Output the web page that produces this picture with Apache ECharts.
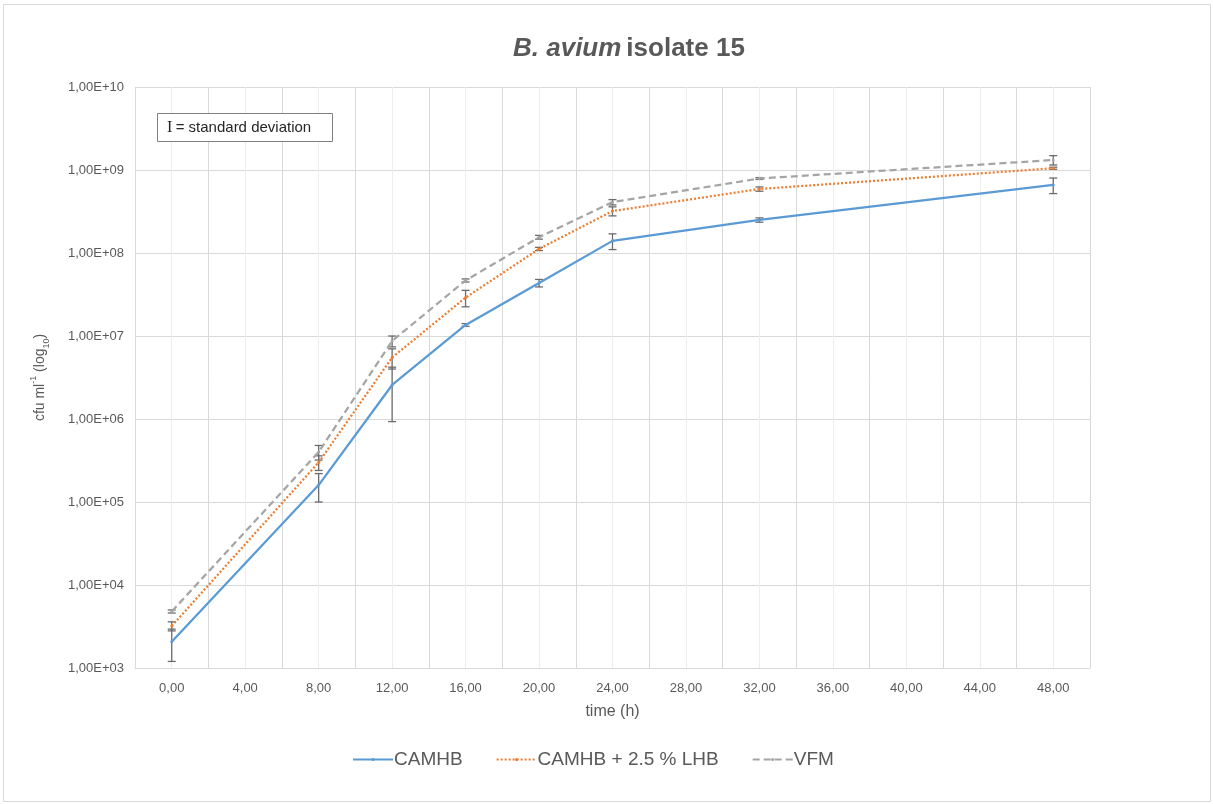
<!DOCTYPE html>
<html>
<head>
<meta charset="utf-8">
<title>B. avium isolate 15</title>
<script src="https://cdn.jsdelivr.net/npm/echarts@6/dist/echarts.min.js"></script>
<style>
  html, body { margin: 0; padding: 0; background: #fff; }
  #chart { width: 1213px; height: 804px; }
</style>
</head>
<body>
<div id="chart"></div>
<script>
// Sampling times (h)
const times = [0, 8, 12, 16, 20, 24, 32, 48];

// Mean counts (cfu/ml) and standard deviations per medium
const camhbMean = [2.07e3, 1.6e5, 2.57e6, 1.36e7, 4.35e7, 1.4e8, 2.5e8, 6.6e8];
const camhbSd   = [0.87e3, 0.6e5, 1.64e6, 0.05e7, 0.45e7, 0.3e8, 0.15e8, 1.4e8];

const lhbMean = [3.2e3, 3.0e5, 5.5e6, 2.9e7, 1.12e8, 3.2e8, 5.9e8, 1.05e9];
const lhbSd   = [0.4e3, 0.6e5, 1.5e6, 0.65e7, 0.05e8, 0.4e8, 0.35e8, 0.03e9];

const vfmMean = [4.8e3, 4.0e5, 8.7e6, 4.67e7, 1.55e8, 4.1e8, 7.9e8, 1.32e9];
const vfmSd   = [0.2e3, 0.8e5, 1.3e6, 0.2e7, 0.08e8, 0.3e8, 0.2e8, 0.17e9];

const seriesNames = ['CAMHB', 'CAMHB + 2.5 % LHB', 'VFM'];
const seriesColors = ['#5b9bd5', '#ed7d31', '#a5a5a5'];

const FONT = '"Liberation Sans", Arial, sans-serif';
const SERIF = '"Liberation Serif", "Times New Roman", serif';
const TEXT = '#595959';

function pairs(mean) {
  return times.map((t, i) => [t, mean[i]]);
}
function bars(mean, sd) {
  return times.map((t, i) => [t, mean[i] - sd[i], mean[i] + sd[i]]);
}

function renderErrorBar(params, api) {
  const x = api.value(0);
  const lo = api.coord([x, api.value(1)]);
  const hi = api.coord([x, api.value(2)]);
  const cap = 4;
  const style = { stroke: '#6b6b6b', lineWidth: 1.3 };
  return {
    type: 'group',
    children: [
      { type: 'line', shape: { x1: lo[0], y1: lo[1], x2: hi[0], y2: hi[1] }, style },
      { type: 'line', shape: { x1: lo[0] - cap, y1: lo[1], x2: lo[0] + cap, y2: lo[1] }, style },
      { type: 'line', shape: { x1: hi[0] - cap, y1: hi[1], x2: hi[0] + cap, y2: hi[1] }, style }
    ]
  };
}

function errorSeries(mean, sd) {
  return {
    type: 'custom',
    renderItem: renderErrorBar,
    data: bars(mean, sd),
    encode: { x: 0, y: [1, 2] },
    silent: true,
    z: 3
  };
}

function lineSeries(idx, mean, dash) {
  return {
    name: seriesNames[idx],
    type: 'line',
    data: pairs(mean),
    color: seriesColors[idx],
    symbol: 'circle',
    symbolSize: 3,
    lineStyle: { width: 2.25, type: dash, color: seriesColors[idx] },
    itemStyle: { color: seriesColors[idx] },
    z: 4
  };
}

const chart = echarts.init(document.getElementById('chart'), null, { renderer: 'canvas' });

chart.setOption({
  animation: false,
  textStyle: { fontFamily: FONT },
  title: {
    text: '{i|B. avium} {b|isolate 15}',
    left: 508,
    top: 31,
    textStyle: {
      rich: {
        i: { fontFamily: FONT, fontSize: 26, fontWeight: 'bold', fontStyle: 'italic', color: TEXT },
        b: { fontFamily: FONT, fontSize: 26, fontWeight: 'bold', color: TEXT }
      }
    }
  },
  legend: {
    top: 745,
    left: 347,
    itemWidth: 40,
    itemHeight: 4,
    itemGap: 33,
    textStyle: { fontFamily: FONT, fontSize: 19, color: TEXT, padding: [0, 0, 0, -4] },
    data: [
      { name: seriesNames[0] },
      { name: seriesNames[1], textStyle: { padding: [0, 8, 0, -4] } },
      { name: seriesNames[2] }
    ]
  },
  grid: { left: 135, right: 123, top: 87, bottom: 136 },
  xAxis: {
    type: 'value',
    min: -2,
    max: 50,
    interval: 2,
    name: 'time (h)',
    nameLocation: 'middle',
    nameGap: 36,
    nameTextStyle: { fontFamily: FONT, fontSize: 16, color: TEXT },
    axisLine: { show: true, lineStyle: { color: '#d9d9d9', width: 1 } },
    axisTick: { show: false },
    axisLabel: {
      fontFamily: FONT,
      fontSize: 13,
      color: TEXT,
      margin: 14,
      formatter: v => (v % 4 === 0 && v >= 0 && v <= 48) ? v.toFixed(2).replace('.', ',') : ''
    },
    splitLine: { show: true, lineStyle: { color: ['#d9d9d9', '#ededed'], width: 1 } }
  },
  yAxis: {
    type: 'log',
    logBase: 10,
    min: 1e3,
    max: 1e10,
    name: '{t|cfu ml}{sup|-1}{t| (log}{sub|10}{t|)}',
    nameLocation: 'middle',
    nameRotate: 90,
    nameGap: 84,
    nameTextStyle: {
      color: TEXT,
      rich: {
        t: { fontFamily: FONT, fontSize: 14, color: TEXT, lineHeight: 22, verticalAlign: 'middle' },
        sup: { fontFamily: FONT, fontSize: 9, color: TEXT, lineHeight: 22, verticalAlign: 'top', padding: [0, 0, 10, 0] },
        sub: { fontFamily: FONT, fontSize: 9, color: TEXT, lineHeight: 22, verticalAlign: 'bottom', padding: [8, 0, 0, 0] }
      }
    },
    axisLine: { show: false },
    axisTick: { show: false },
    axisLabel: {
      fontFamily: FONT,
      fontSize: 13,
      color: TEXT,
      margin: 11,
      formatter: v => {
        const e = Math.round(Math.log10(v));
        return '1,00E+' + (e < 10 ? '0' + e : String(e));
      }
    },
    splitLine: { show: true, lineStyle: { color: '#d9d9d9', width: 1 } }
  },
  series: [
    lineSeries(0, camhbMean, 'solid'),
    lineSeries(1, lhbMean, [2, 2]),
    lineSeries(2, vfmMean, [7, 4]),
    errorSeries(camhbMean, camhbSd),
    errorSeries(lhbMean, lhbSd),
    errorSeries(vfmMean, vfmSd)
  ],
  graphic: [
    {
      type: 'rect',
      shape: { x: 3.5, y: 4.5, width: 1207, height: 797 },
      style: { fill: 'none', stroke: '#d9d9d9', lineWidth: 1 },
      silent: true
    },
    {
      type: 'rect',
      shape: { x: 157.5, y: 113.5, width: 175, height: 28 },
      style: { fill: '#fff', stroke: '#7f7f7f', lineWidth: 1 },
      z: 10
    },
    {
      type: 'text',
      x: 167, y: 128,
      style: {
        text: '{s|I} {t|= standard deviation}',
        verticalAlign: 'middle',
        rich: {
          s: { fontFamily: SERIF, fontSize: 16, fill: '#262626' },
          t: { fontFamily: FONT, fontSize: 15, fill: '#262626' }
        }
      },
      z: 11
    }
  ]
});
</script>
</body>
</html>
